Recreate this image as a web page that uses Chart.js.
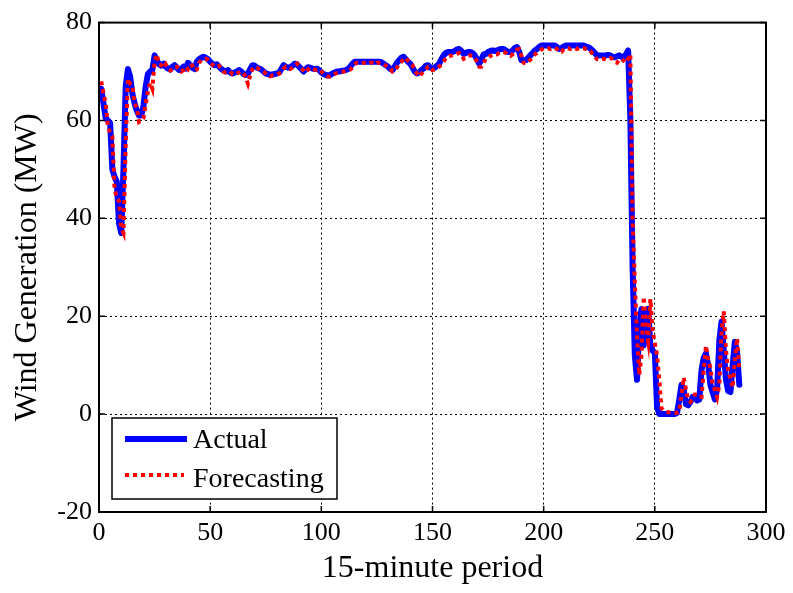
<!DOCTYPE html>
<html>
<head>
<meta charset="utf-8">
<script src="https://cdn.jsdelivr.net/npm/chart.js@4.4.1/dist/chart.umd.min.js"></script>
<style>
  html, body { margin: 0; padding: 0; background: #fff; }
  #wrap { width: 793px; height: 593px; }
</style>
</head>
<body>
<div id="wrap"><canvas id="wind-chart" width="793" height="593"></canvas></div>
<script>
// wind generation per 15-minute period (1..288), MW
const actual = [
  66.5, 63.5, 60.5, 60, 59.5, 50, 48.5, 47.5, 39, 37, 50, 67,
  70.5, 69, 65.5, 63.5, 62, 61, 61, 63, 67, 69.5, 70, 70.3,
  73.3, 72.3, 71.5, 71.2, 71.6, 71, 70.6, 70.4, 71, 71.3, 70.8, 70.3,
  70.5, 71, 70.6, 71.8, 71.4, 70.8, 70.5, 72, 72.5, 72.8, 73, 72.8,
  72.5, 72, 71.6, 71.3, 71.5, 71, 70.5, 70.2, 70, 70.3, 69.8, 69.6,
  69.8, 70, 70.3, 70, 69.5, 69.3, 69.6, 70.5, 71.3, 71.2, 70.8, 70.6,
  70.4, 70, 69.6, 69.5, 69.3, 69.4, 69.5, 69.6, 69.8, 70.5, 71.3, 71,
  70.8, 70.9, 71.2, 71.6, 71.5, 71, 70.5, 70, 70.5, 70.9, 70.8, 70.6,
  70.5, 70.6, 70.3, 69.8, 69.5, 69.3, 69.2, 69.3, 69.6, 69.8, 70, 70,
  70.1, 70.2, 70.3, 70.5, 71, 71.6, 72, 72, 72, 72, 72, 72,
  72, 72, 72, 72, 72, 72, 71.9, 71.6, 71.3, 71, 70.5, 70.3,
  71, 71.8, 72.3, 72.8, 73, 72.5, 72, 71.6, 70.8, 70, 69.6, 69.8,
  70.3, 70.6, 71.2, 71.3, 70.8, 70.6, 70.8, 71.2, 71.6, 72.5, 73.3, 73.8,
  74, 74, 74, 74.2, 74.5, 74.6, 74.2, 73.6, 73.8, 74, 74, 73.8,
  73.3, 72.5, 71.6, 72.5, 73.5, 73.6, 74, 74.2, 74.3, 74.2, 74.3, 74.5,
  74.6, 74.6, 74.3, 74, 74, 74.3, 74.8, 75, 74, 72.3, 72.3, 72.3,
  72.8, 73.3, 73.8, 74.3, 74.6, 75, 75.3, 75.3, 75.3, 75.3, 75.3, 75.3,
  75.3, 75, 74.6, 74.8, 75.1, 75.3, 75.3, 75.3, 75.3, 75.3, 75.3, 75.3,
  75.3, 75.3, 75.1, 75, 74.7, 74.3, 73.8, 73.3, 73.3, 73.3, 73.3, 73.3,
  73.4, 73.3, 73, 72.9, 73.1, 73.3, 73, 72.8, 73.5, 74.3, 60, 30,
  12, 7, 18, 21.5, 14, 20, 21.5, 14, 13, 12.5, 1.5, 0,
  0, 0, 0, 0, 0, 0, 0, 0.3, 3, 6, 5, 2,
  1.8, 2.5, 3.5, 3.6, 2.8, 3, 9, 11.5, 12.4, 10, 6, 4.5,
  3, 5, 15, 18.9, 13, 7, 4.7, 4.5, 10, 14.8, 12.5, 6
];

const forecasting = [
  68, 65.5, 63.5, 58.8, 57.4, 56.8, 46, 44.2, 43.5, 38, 37, 55,
  68.5, 67.5, 67.2, 63.4, 62.7, 59.7, 60, 60.5, 63.4, 66, 67.7, 66.5,
  72, 73.5, 71.5, 71.3, 70.8, 71.5, 70.6, 70.2, 70.5, 71, 71, 70.5,
  70, 70.3, 71, 70.5, 71.5, 71.2, 70.3, 70.4, 71.8, 72.3, 72.5, 72.6,
  72.4, 72, 71.4, 71, 71, 71.2, 70.6, 70, 69.8, 69.8, 70, 69.5,
  69.3, 69.6, 69.8, 70, 69.6, 68.8, 67.5, 69.2, 70.5, 71, 70.8, 70.5,
  70.2, 70, 69.6, 69.2, 69, 69.2, 69.3, 69.4, 69.6, 69.8, 70.6, 71,
  70.7, 70.5, 70.8, 71.2, 71.6, 71.2, 70.7, 70.2, 69.8, 70.4, 70.8, 70.6,
  70.4, 70.3, 70.4, 70, 69.5, 69.2, 69, 69, 69.2, 69.5, 69.7, 69.8,
  69.9, 70, 70.1, 70.2, 70.4, 70.8, 71.5, 71.8, 71.8, 71.6, 71.8, 71.8,
  71.6, 71.8, 71.8, 71.5, 71.8, 71.8, 71.8, 71.6, 71.2, 70.8, 70.6, 70,
  70.2, 70.8, 71.6, 72, 72.6, 72.8, 72.2, 71.7, 71.3, 70.4, 69.6, 69,
  69.5, 70, 70.4, 71, 71, 70.3, 70.4, 70.7, 71, 71.4, 72, 72.8,
  73, 73.2, 73.3, 73.4, 73.6, 73.8, 73.5, 72.6, 72.8, 73.2, 73.3, 73.2,
  72.8, 72, 71, 71, 71.8, 72.6, 72.8, 73.2, 73.4, 73.6, 73.5, 73.8,
  74, 74, 73.8, 73.4, 73.2, 73.5, 74, 74.5, 74.6, 73.2, 71.8, 71.6,
  72, 72.4, 73, 73.5, 73.8, 74.2, 74.5, 74.8, 74.8, 74.8, 74.6, 74.8,
  74.8, 74.6, 74, 74, 74.5, 74.8, 74.8, 74.6, 74.8, 74.8, 74.6, 74.8,
  74.8, 74.8, 74.6, 74.5, 74.2, 73.6, 73, 72.5, 72.4, 72.6, 72.6, 72.4,
  72.6, 72.8, 72.5, 72, 71.8, 72.4, 72.6, 72.2, 71.8, 72.6, 73.5, 40,
  27, 16, 8, 12, 24, 18, 15, 23.5, 17, 14.5, 12, 7,
  1.2, 0.8, 0.5, 0.4, 0.3, 0.3, 0.3, 0.3, 0.5, 4, 7.5, 5,
  3, 2.5, 3, 4, 4, 3.5, 3.5, 9, 14, 11, 9.5, 6,
  5, 3.5, 6, 17, 21, 13, 8.7, 7.3, 5.4, 11, 15.5, 9
];

const xTicks = [0, 50, 100, 150, 200, 250, 300];
const yTicks = [-20, 0, 20, 40, 60, 80];
const seriesNames = ['Actual', 'Forecasting'];

const SERIF = '"Liberation Serif", "Times New Roman", serif';
const BLUE = '#0000ff';
const RED = '#ff0000';

function toPoints(values) {
  return values.map((v, i) => ({ x: i + 1, y: v }));
}

// MATLAB-like box with inward ticks, plus the boxed legend
const boxPlugin = {
  id: 'matlabBox',
  afterDatasetsDraw(chart) {
    const { ctx, chartArea: a, scales } = chart;
    ctx.save();
    ctx.strokeStyle = '#000';
    ctx.lineWidth = 1.5;
    ctx.beginPath();
    xTicks.forEach((t) => {
      const px = scales.x.getPixelForValue(t);
      ctx.moveTo(px, a.bottom);
      ctx.lineTo(px, a.bottom - 6);
      ctx.moveTo(px, a.top);
      ctx.lineTo(px, a.top + 6);
    });
    yTicks.forEach((t) => {
      const py = scales.y.getPixelForValue(t);
      ctx.moveTo(a.left, py);
      ctx.lineTo(a.left + 6, py);
      ctx.moveTo(a.right, py);
      ctx.lineTo(a.right - 6, py);
    });
    ctx.stroke();
    ctx.lineWidth = 2;
    ctx.strokeRect(a.left, a.top, a.right - a.left, a.bottom - a.top);
    ctx.restore();
  },
  afterDraw(chart) {
    const { ctx, chartArea: a } = chart;
    const left = a.left + 13;
    const top = a.bottom - 94;
    const w = 225;
    const h = 81;
    ctx.save();
    ctx.fillStyle = '#fff';
    ctx.fillRect(left, top, w, h);
    ctx.strokeStyle = '#000';
    ctx.lineWidth = 1.5;
    ctx.strokeRect(left, top, w, h);

    ctx.lineWidth = 6;
    ctx.strokeStyle = BLUE;
    ctx.beginPath();
    ctx.moveTo(left + 13, top + 21);
    ctx.lineTo(left + 75, top + 21);
    ctx.stroke();

    ctx.lineWidth = 4;
    ctx.strokeStyle = RED;
    ctx.setLineDash([4, 4]);
    ctx.beginPath();
    ctx.moveTo(left + 13, top + 57);
    ctx.lineTo(left + 72, top + 57);
    ctx.stroke();
    ctx.setLineDash([]);

    ctx.fillStyle = '#000';
    ctx.font = '28px ' + SERIF;
    ctx.textBaseline = 'alphabetic';
    ctx.fillText(seriesNames[0], left + 81, top + 30);
    ctx.fillText(seriesNames[1], left + 81, top + 69);
    ctx.restore();
  },
};

const ctx = document.getElementById('wind-chart').getContext('2d');

new Chart(ctx, {
  type: 'line',
  data: {
    datasets: [
      {
        label: seriesNames[0],
        data: toPoints(actual),
        borderColor: BLUE,
        backgroundColor: BLUE,
        borderWidth: 6,
        borderJoinStyle: 'round',
        borderCapStyle: 'round',
        pointRadius: 0,
        tension: 0,
        fill: false,
        order: 2,
      },
      {
        label: seriesNames[1],
        data: toPoints(forecasting),
        borderColor: RED,
        backgroundColor: RED,
        borderWidth: 4,
        borderDash: [4, 4],
        pointRadius: 0,
        tension: 0,
        fill: false,
        order: 1,
      },
    ],
  },
  options: {
    responsive: false,
    animation: false,
    events: [],
    layout: {
      padding: { top: 19, right: 27, left: 0, bottom: 0 },
    },
    plugins: {
      legend: { display: false },
      tooltip: { enabled: false },
    },
    scales: {
      x: {
        type: 'linear',
        min: 0,
        max: 300,
        afterBuildTicks: (scale) => {
          scale.ticks = xTicks.map((v) => ({ value: v }));
        },
        afterFit: (scale) => {
          scale.height = 81;
        },
        ticks: {
          color: '#000',
          padding: 6,
          maxRotation: 0,
          font: { family: SERIF, size: 26 },
        },
        grid: {
          color: '#000',
          lineWidth: 1,
          drawTicks: false,
        },
        border: { display: true, color: '#000', width: 2, dash: [2, 3] },
        title: {
          display: true,
          text: '15-minute period',
          color: '#000',
          padding: { top: 0, bottom: 5 },
          font: { family: SERIF, size: 32 },
        },
      },
      y: {
        min: -20,
        max: 80,
        afterBuildTicks: (scale) => {
          scale.ticks = yTicks.map((v) => ({ value: v }));
        },
        afterFit: (scale) => {
          scale.width = 99;
        },
        ticks: {
          color: '#000',
          padding: 7,
          font: { family: SERIF, size: 26 },
        },
        grid: {
          color: '#000',
          lineWidth: 1,
          drawTicks: false,
        },
        border: { display: true, color: '#000', width: 2, dash: [2, 3] },
        title: {
          display: true,
          text: 'Wind Generation (MW)',
          color: '#000',
          padding: { top: 8, bottom: 0 },
          font: { family: SERIF, size: 32 },
        },
      },
    },
  },
  plugins: [boxPlugin],
});
</script>
</body>
</html>
